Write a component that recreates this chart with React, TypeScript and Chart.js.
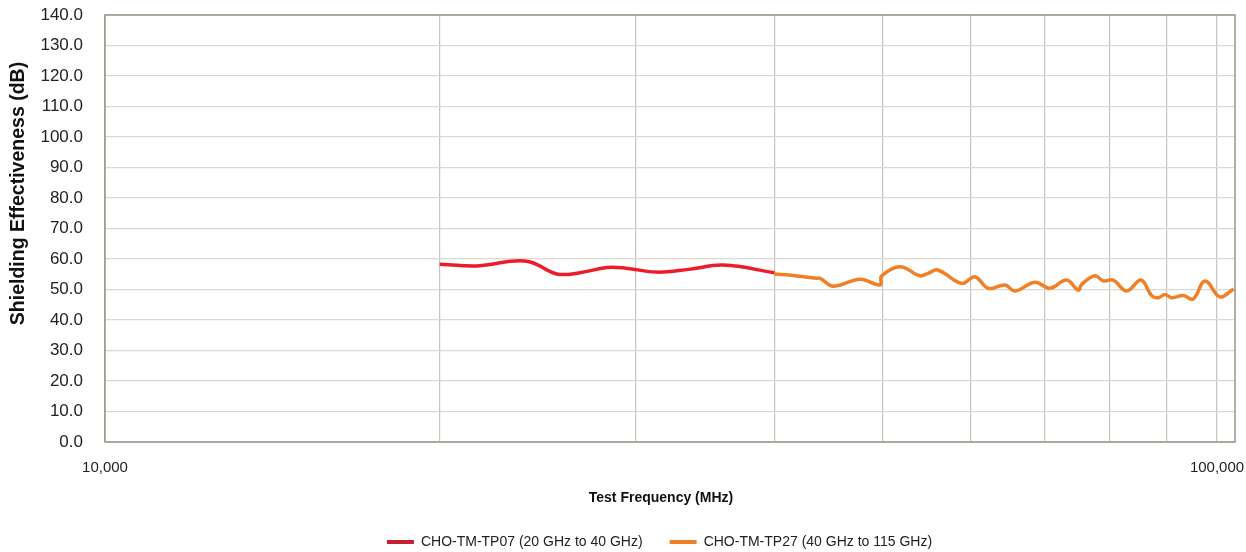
import React, { useEffect, useRef } from "react";
import { Chart, registerables } from "chart.js";

Chart.register(...registerables);

const tp07Freq = [20000, 21010, 21740, 23950, 25480, 26740, 28260, 29400, 31340, 33500, 35970, 40000];
const tp07Db = [58.3, 57.8, 57.8, 59.3, 55.1, 55.5, 57.2, 57.0, 55.7, 56.6, 58.0, 55.5];

const tp27Freq = [40000, 41740, 43650, 43950, 45190, 47750, 49770, 49950, 51870, 54060, 54970, 56090, 58930, 60580, 62270, 64470, 65810, 68600, 70760, 73250, 75030, 75560, 77670, 79020, 80660, 82930, 85440, 87350, 88560, 89790, 91040, 93270, 95210, 97550, 100620, 103500];
const tp27Db = [55.1, 54.5, 53.7, 53.7, 51.1, 53.4, 51.5, 54.5, 57.5, 54.5, 55.3, 56.4, 52.0, 54.2, 50.4, 51.5, 49.5, 52.4, 50.4, 53.1, 49.8, 51.7, 54.5, 52.8, 53.1, 49.5, 53.1, 48.0, 47.3, 48.4, 47.3, 48.0, 46.9, 52.8, 47.6, 50.2];

const xTicks = [10000, 20000, 30000, 40000, 50000, 60000, 70000, 80000, 90000, 100000];
const xLabeled = [10000, 100000];
const xMin = 10000;
const xMax = 103800;
const yMin = 0;
const yMax = 140;
const yStep = 10;

const seriesNames = ["CHO-TM-TP07 (20 GHz to 40 GHz)", "CHO-TM-TP27 (40 GHz to 115 GHz)"];
const lineColors = ["#ec1c2a", "#f07f26"];
const legendColors = ["#c4202f", "#f07f26"];

const FONT = "'Liberation Sans', Arial, sans-serif";

const frame = {
  id: "frame",
  afterLayout(chart: any) {
    if (chart.legend) {
      chart.legend.left += 42;
      chart.legend.right += 42;
    }
    const y = chart.scales.y;
    if (y) y.bottom -= 70;
    const x = chart.scales.x;
    if (x) {
      x.left -= 9;
      x.right -= 9;
    }
  },
  afterDraw(chart: any) {
    const { ctx, chartArea } = chart;
    ctx.save();
    ctx.strokeStyle = "#9c9385";
    ctx.lineWidth = 1.5;
    ctx.strokeRect(chartArea.left, chartArea.top, chartArea.right - chartArea.left, chartArea.bottom - chartArea.top);
    ctx.restore();
  },
};

export default function App() {
  const ref = useRef<HTMLCanvasElement>(null);
  useEffect(() => {
    document.body.style.margin = "0";
    const ctx = ref.current!;
    const chart = new Chart(ctx, {
      type: "line",
      data: {
        datasets: [
          {
            label: seriesNames[0],
            data: tp07Freq.map((f, i) => ({ x: f, y: tp07Db[i] })),
            borderColor: lineColors[0],
            backgroundColor: legendColors[0],
            borderWidth: 3.5,
            pointRadius: 0,
            tension: 0.4,
            clip: false,
          },
          {
            label: seriesNames[1],
            data: tp27Freq.map((f, i) => ({ x: f, y: tp27Db[i] })),
            borderColor: lineColors[1],
            backgroundColor: legendColors[1],
            borderWidth: 3.5,
            pointRadius: 0,
            tension: 0.4,
            clip: false,
          },
        ],
      },
      options: {
        animation: false,
        responsive: true,
        maintainAspectRatio: false,
        layout: { padding: { left: 0, right: 11, top: 15, bottom: 0 } },
        plugins: {
          tooltip: { enabled: false },
          legend: {
            position: "bottom",
            maxHeight: 44,
            labels: {
              font: { family: FONT, size: 14 },
              color: "#222",
              boxWidth: 27,
              boxHeight: 4,
              padding: 27,
              generateLabels: (c: any) =>
                c.data.datasets.map((d: any, i: number) => ({
                  text: d.label,
                  fillStyle: legendColors[i],
                  strokeStyle: legendColors[i],
                  lineWidth: 0,
                  hidden: false,
                  datasetIndex: i,
                  fontColor: "#222",
                })),
            },
          },
        },
        scales: {
          x: {
            type: "logarithmic",
            min: xMin,
            max: xMax,
            afterBuildTicks: (s: any) => {
              s.ticks = xTicks.map((v) => ({ value: v }));
            },
            afterFit: (s: any) => {
              s.height = 66;
              s.paddingLeft = 0;
              s.paddingRight = 0;
            },
            ticks: {
              autoSkip: false,
              maxRotation: 0,
              padding: 17,
              color: "#222",
              font: { family: FONT, size: 15 },
              callback: (v: any) => (xLabeled.includes(Number(v)) ? Number(v).toLocaleString("en-US") : ""),
            },
            grid: { color: "#cbc3b7", lineWidth: 1.2, drawTicks: false },
            border: { display: false },
            title: {
              display: true,
              text: "Test Frequency (MHz)",
              font: { family: FONT, size: 14, weight: "bold" },
              color: "#111",
              padding: { top: 0, bottom: 1 },
            },
          },
          y: {
            min: yMin,
            max: yMax,
            afterBuildTicks: (s: any) => {
              const t = [];
              for (let v = yMin; v <= yMax; v += yStep) t.push({ value: v });
              s.ticks = t;
            },
            afterFit: (s: any) => {
              s.width = 105;
              s.paddingTop = 0;
              s.paddingBottom = 0;
            },
            ticks: {
              padding: 22,
              color: "#222",
              font: { family: FONT, size: 17 },
              callback: (v: any) => Number(v).toFixed(1),
            },
            grid: { color: "#dcd8d2", lineWidth: 1.2, drawTicks: false },
            border: { display: false },
            title: {
              display: true,
              text: "Shielding Effectiveness (dB)",
              font: { family: FONT, size: 19.5, weight: "bold" },
              color: "#111",
              padding: { top: 7, bottom: 0 },
            },
          },
        },
      },
      plugins: [frame],
    });
    return () => chart.destroy();
  }, []);
  return (
    <div style={{ width: 1246, height: 552, position: "relative" }}>
      <canvas ref={ref} />
    </div>
  );
}
